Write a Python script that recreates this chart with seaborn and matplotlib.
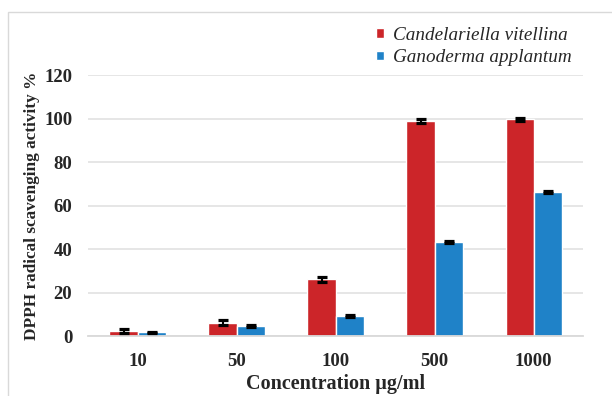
import pandas as pd
import matplotlib
matplotlib.use("Agg")
import matplotlib.pyplot as plt
import seaborn as sns
from matplotlib.patches import Rectangle

# Chart data
concentrations = ["10", "50", "100", "500", "1000"]
candelariella = [2.4, 6.1, 26.1, 98.8, 99.6]
candelariella_err = [1.0, 1.1, 1.2, 0.9, 0.8]
ganoderma = [1.7, 4.6, 9.2, 43.1, 66.2]
ganoderma_err = [0.3, 0.3, 0.4, 0.4, 0.3]
species = ["Candelariella vitellina", "Ganoderma applantum"]

df = pd.DataFrame({
    "Concentration": concentrations * 2,
    "Activity": candelariella + ganoderma,
    "Species": [species[0]] * 5 + [species[1]] * 5,
})
errors = {species[0]: candelariella_err, species[1]: ganoderma_err}

sns.set_style("white")
plt.rcParams["font.family"] = ["Liberation Serif", "DejaVu Serif"]

fig = plt.figure(figsize=(6.12, 3.96), dpi=100)
ax = fig.add_axes([0.144, 0.1515, 0.809, 0.659])

sns.barplot(data=df, x="Concentration", y="Activity", hue="Species",
            palette=["#CC2529", "#1F82C8"], width=0.57, gap=0,
            saturation=1, errorbar=None, ax=ax, zorder=2)

# error bars placed on the bars seaborn drew
for cont, sp in zip(ax.containers, species):
    xs = [p.get_x() + p.get_width() / 2 for p in cont.patches]
    ys = [p.get_height() for p in cont.patches]
    ax.errorbar(xs, ys, yerr=errors[sp], fmt="none", ecolor="black",
                elinewidth=1.5, capsize=3.6, capthick=2.3, zorder=3)

ax.set_ylim(0, 120)
ax.set_yticks(range(0, 121, 20))
ax.set_xlim(-0.5, 4.5)
ax.grid(axis="y", color="#E4E4E4", linewidth=1.3, zorder=0)
ax.set_axisbelow(True)
for s in ["top", "right", "left"]:
    ax.spines[s].set_visible(False)
ax.spines["bottom"].set_color("#D9D9D9")
ax.spines["bottom"].set_linewidth(1.3)
ax.tick_params(axis="both", length=0, labelsize=13.5)
ax.tick_params(axis="y", pad=11.5)
ax.tick_params(axis="x", pad=12)
for lab in ax.get_xticklabels() + ax.get_yticklabels():
    lab.set_fontweight("bold")

ax.set_xlabel("Concentration µg/ml", fontsize=14.5, fontweight="bold", labelpad=3)
ax.set_ylabel("DPPH radical scavenging activity %", fontsize=12.4,
              fontweight="bold", labelpad=3)

leg = ax.legend(loc="upper left", bbox_to_anchor=(376 / 612, 1 - 27 / 396),
                bbox_transform=fig.transFigure, frameon=False,
                prop={"style": "italic", "size": 13.8}, handlelength=0.42,
                handleheight=0.42, handletextpad=0.45, labelspacing=0.28,
                borderpad=0, borderaxespad=0)

# light outer frame
fig.patches.append(Rectangle((8 / 612, -0.02), 1.1, 1.0 - 12 / 396 + 0.02,
                             transform=fig.transFigure, fill=False,
                             edgecolor="#D9D9D9", linewidth=1))

fig.savefig("out.png", dpi=100)
